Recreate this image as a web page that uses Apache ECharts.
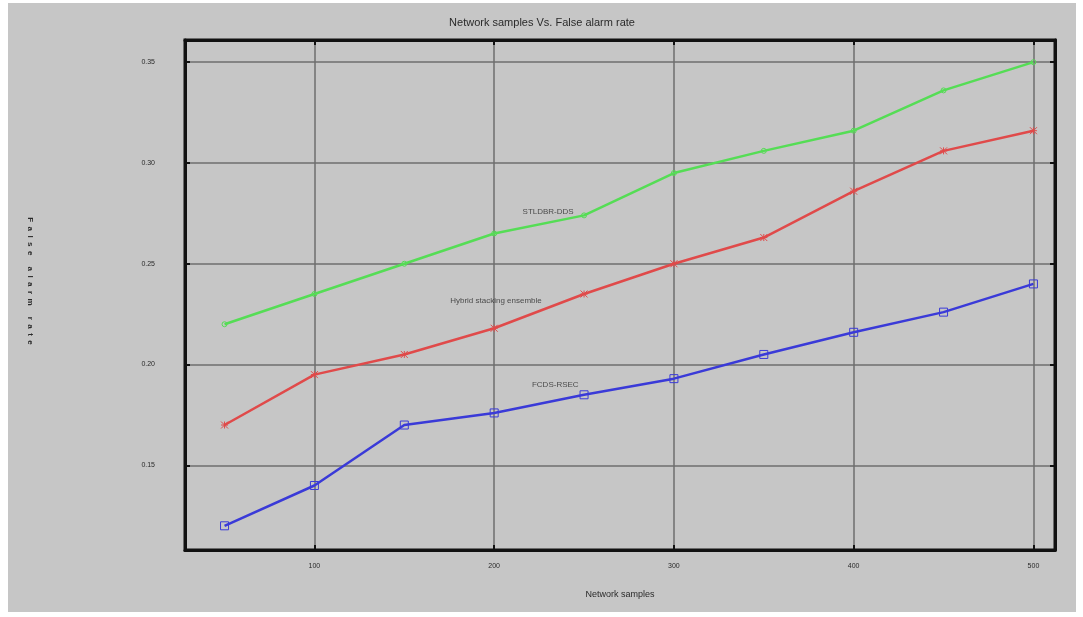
<!DOCTYPE html>
<html>
<head>
<meta charset="utf-8">
<script src="https://cdn.jsdelivr.net/npm/echarts@6/dist/echarts.min.js"></script>
<style>
  html, body { margin: 0; padding: 0; background: #ffffff; }
  #frame { position: absolute; left: 8px; top: 3px; width: 1068px; height: 609px; background: #c6c6c6; }
  #chart { width: 1068px; height: 609px; }
</style>
</head>
<body>
<div id="frame"><div id="chart"></div></div>
<script>
// Network sample counts on the x axis
const samples = [50, 100, 150, 200, 250, 300, 350, 400, 450, 500];

// False alarm rate for each method
const stldbrDds = [0.220, 0.235, 0.250, 0.265, 0.274, 0.295, 0.306, 0.316, 0.336, 0.350];
const hybridStacking = [0.170, 0.195, 0.205, 0.218, 0.235, 0.250, 0.263, 0.286, 0.306, 0.316];
const fcdsRsec = [0.120, 0.140, 0.170, 0.176, 0.185, 0.193, 0.205, 0.216, 0.226, 0.240];

// Tick positions
const xTicks = [100, 200, 300, 400, 500];
const yTicks = [0.15, 0.20, 0.25, 0.30, 0.35];

// In-plot series captions: [text, x, y]
const captions = [
  ['STLDBR-DDS', 230, 0.2757],
  ['Hybrid stacking ensemble', 201, 0.2317],
  ['FCDS-RSEC', 234, 0.1900]
];

const chart = echarts.init(document.getElementById('chart'), null, { renderer: 'canvas' });

const toPairs = arr => samples.map((x, i) => [x, arr[i]]);
const textColor = '#2a2a2a';
const gridLine = { show: true, lineStyle: { color: '#6e6e6e', width: 1.5 } };
// widen the rotated y-axis title by spacing its letters
const spaced = s => s.split('').join('  ');

function lineSeries(name, data, color, symbol, size) {
  return {
    name: name,
    type: 'line',
    data: toPairs(data),
    symbol: symbol,
    symbolSize: size,
    showSymbol: true,
    lineStyle: { color: color, width: 2.5 },
    itemStyle: { color: 'transparent', borderColor: color, borderWidth: 1 },
    z: 3
  };
}

const captionSeries = {
  type: 'scatter',
  data: captions.map(c => ({ value: [c[1], c[2]], name: c[0] })),
  symbolSize: 0,
  silent: true,
  label: {
    show: true,
    position: 'inside',
    formatter: p => p.name,
    color: textColor,
    fontSize: 8,
    fontFamily: 'Liberation Sans'
  },
  z: 4
};

const option = {
  backgroundColor: '#c6c6c6',
  animation: false,
  title: {
    text: 'Network samples Vs. False alarm rate',
    left: 'center',
    top: 9,
    textStyle: { color: textColor, fontSize: 11, fontWeight: 'normal', fontFamily: 'Liberation Sans' }
  },
  grid: {
    left: 177, right: 21, top: 37, bottom: 62,
    show: true,
    backgroundColor: 'transparent',
    borderColor: '#111111',
    borderWidth: 3
  },
  xAxis: [{
    type: 'value',
    min: 28, max: 512,
    name: 'Network samples',
    nameLocation: 'middle',
    nameGap: 40,
    nameTextStyle: { color: textColor, fontSize: 9, fontFamily: 'Liberation Sans' },
    axisLine: { show: true, lineStyle: { color: '#111111', width: 3 } },
    axisTick: { show: true, inside: true, length: 5, customValues: xTicks, lineStyle: { color: '#111111', width: 2 } },
    axisLabel: { customValues: xTicks, color: textColor, fontSize: 7, margin: 13, fontFamily: 'Liberation Sans' },
    splitLine: gridLine
  }, {
    type: 'value',
    position: 'top',
    min: 28, max: 512,
    axisLine: { show: true, lineStyle: { color: '#111111', width: 3 } },
    axisTick: { show: true, inside: true, length: 5, customValues: xTicks, lineStyle: { color: '#111111', width: 2 } },
    axisLabel: { show: false, customValues: xTicks },
    splitLine: { show: false }
  }],
  yAxis: [{
    type: 'value',
    min: 0.108, max: 0.361,
    name: spaced('False alarm rate'),
    nameLocation: 'middle',
    nameRotate: -90,
    nameGap: 150,
    nameTextStyle: { color: textColor, fontSize: 8, fontWeight: 'bold', fontFamily: 'Liberation Sans', padding: [0, 28, 0, 0], lineHeight: 10 },
    axisLine: { show: true, lineStyle: { color: '#111111', width: 3 } },
    axisTick: { show: true, inside: true, length: 5, customValues: yTicks, lineStyle: { color: '#111111', width: 2 } },
    axisLabel: { customValues: yTicks, color: textColor, fontSize: 7, margin: 30, fontFamily: 'Liberation Sans',
                 formatter: v => v.toFixed(2) },
    splitLine: gridLine
  }, {
    type: 'value',
    position: 'right',
    min: 0.108, max: 0.361,
    axisLine: { show: true, lineStyle: { color: '#111111', width: 3 } },
    axisTick: { show: true, inside: true, length: 5, customValues: yTicks, lineStyle: { color: '#111111', width: 2 } },
    axisLabel: { show: false, customValues: yTicks },
    splitLine: { show: false }
  }],
  series: [
    lineSeries('STLDBR-DDS', stldbrDds, '#55dd55', 'circle', 5),
    lineSeries('Hybrid stacking ensemble', hybridStacking, '#e04a4a', 'path://M0,0L10,10M10,0L0,10M5,0L5,10M0,5L10,5', 7),
    lineSeries('FCDS-RSEC', fcdsRsec, '#3a3ad8', 'rect', 8),
    captionSeries
  ]
};

chart.setOption(option);
</script>
</body>
</html>
